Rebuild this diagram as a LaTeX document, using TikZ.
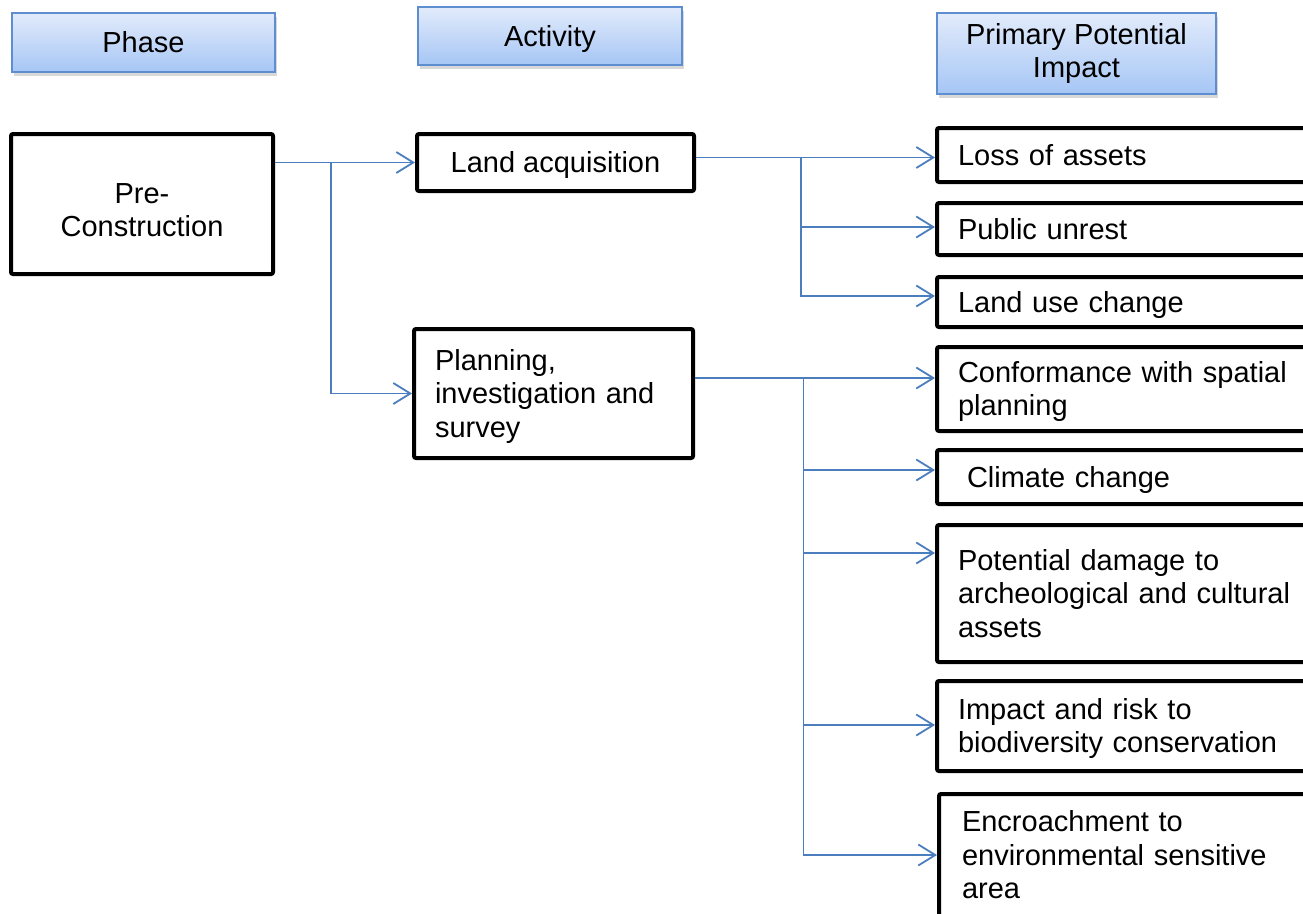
\documentclass[tikz,border=0pt]{standalone}
\usepackage{fontspec}
\setmainfont{Liberation Sans}
\usetikzlibrary{arrows.meta,shadows}
\definecolor{connblue}{HTML}{4A7EBF}
\definecolor{hdrtop}{HTML}{E2EBFB}
\definecolor{hdrbot}{HTML}{A6C6F5}
\definecolor{hdrline}{HTML}{5E8DD0}
\newcommand{\mytopstrut}{\rule{0pt}{26.2pt}}
\newcommand{\mybotstrut}{\rule[-6.1pt]{0pt}{6.1pt}}
\tikzset{
  txt/.style={font=\fontsize{29}{33.5}\selectfont,
    execute at begin node=\mytopstrut, execute at end node=\mybotstrut},
  hdr/.style={txt, draw=hdrline, line width=1.5pt, top color=hdrtop, bottom color=hdrbot,
    inner sep=0pt, align=center,
    drop shadow={shadow xshift=1.5pt, shadow yshift=-4pt, opacity=0.3}},
  box/.style={txt, draw=black, line width=4pt, fill=white, rounded corners=2pt, inner sep=0pt},
  impbox/.style={box, minimum width=423pt, text width=381pt, align=left},
  arrowline/.style={draw=connblue, line width=1.8pt, -{Straight Barb[length=17pt,width=21pt,line width=1.8pt]}}
}
\begin{document}
\begin{tikzpicture}[x=1pt,y=-1pt]
\useasboundingbox (0,0) rectangle (1303,913);
\clip (0,0) rectangle (1303,913);
\fill[white] (0,0) rectangle (1303,913);

% headers
\node[hdr, minimum width=263pt, minimum height=59pt] (hphase) at (143.5,42.5) {Phase};
\node[hdr, minimum width=264pt, minimum height=58pt] (hact) at (550,36) {Activity};
\node[hdr, minimum width=279pt, minimum height=81pt] (himp) at (1076.5,53.5) {Primary Potential\\Impact};

% phase
\node[box, minimum width=262pt, minimum height=140pt, align=center] (pre) at (142,204) {\rule{0pt}{38pt}Pre-\\Construction};

% activities
\node[box, minimum width=277pt, minimum height=57pt, align=center] (land) at (555.5,162.5) {Land acquisition};
\node[box, minimum width=279pt, minimum height=129pt, text width=237pt, align=left] (plan) at (553.5,393.5) {Planning,\\investigation and\\survey};

% impacts
\node[impbox, minimum height=54pt] (loss) at (1148.5,155) {Loss of assets};
\node[impbox, minimum height=52pt] (unrest) at (1148.5,229) {Public unrest};
\node[impbox, minimum height=50pt] (landuse) at (1148.5,302) {Land use change};
\node[impbox, minimum height=84pt] (conf) at (1148.5,389) {Conformance with spatial\\planning};
\node[impbox, minimum height=54pt] (clim) at (1148.5,477) {\hspace*{9pt}Climate change};
\node[impbox, minimum height=137pt] (dmg) at (1148.5,593.5) {Potential damage to\\archeological and cultural\\assets};
\node[impbox, minimum height=90pt] (risk) at (1148.5,726) {Impact and risk to\\biodiversity conservation};
\node[impbox, minimum height=122pt, text width=377pt] (encr) at (1150.5,855) {Encroachment to\\environmental sensitive\\area};

% connector end points
\coordinate (lossin) at ([yshift=-2.5pt]loss.west);
\coordinate (unrestin) at ([yshift=2pt]unrest.west);
\coordinate (landusein) at ([yshift=6pt]landuse.west);
\coordinate (confin) at ([yshift=11pt]conf.west);
\coordinate (climin) at ([yshift=7pt]clim.west);
\coordinate (dmgin) at ([yshift=40.5pt]dmg.west);
\coordinate (riskin) at ([yshift=1pt]risk.west);
\coordinate (encrin) at (encr.west);

\coordinate (j1) at (331,162.5);
\coordinate (j2) at (801,157.5);
\coordinate (j3) at (803.5,378);

% phase -> activities
\draw[arrowline] (pre.east |- land.west) -- (land.west);
\draw[arrowline] (j1) |- (plan.west);

% land acquisition -> impacts
\draw[arrowline] (land.east |- lossin) -- (lossin);
\draw[arrowline] (j2) |- (unrestin);
\draw[arrowline] (j2) |- (landusein);

% planning -> impacts
\draw[arrowline] (plan.east |- confin) -- (confin);
\draw[arrowline] (j3) |- (climin);
\draw[arrowline] (j3) |- (dmgin);
\draw[arrowline] (j3) |- (riskin);
\draw[arrowline] (j3) |- (encrin);
\end{tikzpicture}
\end{document}
